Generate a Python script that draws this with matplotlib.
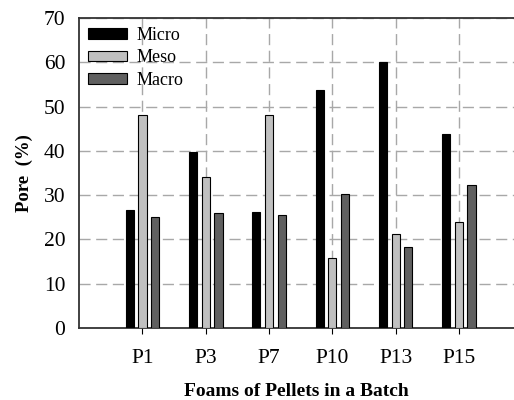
import matplotlib
matplotlib.use("Agg")
import numpy as np
from matplotlib import pyplot as plt

# data
categories = ["P1", "P3", "P7", "P10", "P13", "P15"]
micro = [26.6, 39.7, 26.3, 53.7, 60.1, 43.8]
meso = [48.2, 34.2, 48.1, 15.9, 21.3, 23.9]
macro = [25.0, 25.9, 25.5, 30.3, 18.4, 32.3]

plt.rcParams["font.family"] = ["Liberation Serif", "DejaVu Serif"]

fig = plt.figure(figsize=(5.14, 4.0), dpi=100)
ax = fig.add_axes([0.154, 0.18, 0.846, 0.775])

x = np.arange(1, len(categories) + 1)
w = 0.13
off = 0.2
ax.bar(x - off, micro, w, color="black", edgecolor="black", linewidth=0.8, label="Micro", zorder=3)
ax.bar(x, meso, w, color="#c0c0c0", edgecolor="black", linewidth=0.8, label="Meso", zorder=3)
ax.bar(x + off, macro, w, color="#606060", edgecolor="black", linewidth=0.8, label="Macro", zorder=3)

ax.set_xlim(0, 6.87)
ax.set_ylim(0, 70)
ax.set_xticks(x)
ax.set_xticklabels(categories)
ax.set_yticks(range(0, 71, 10))
ax.tick_params(axis="x", labelsize=15.5, direction="out", length=4, pad=11)
ax.tick_params(axis="y", labelsize=15.5, length=0, pad=10)

ax.grid(True, color="#a8a8a8", linestyle=(0, (8, 4)), linewidth=1.0, zorder=0)
ax.set_axisbelow(True)

for side in ["left", "bottom", "top"]:
    ax.spines[side].set_linewidth(1.3)
    ax.spines[side].set_color("#333333")
ax.spines["right"].set_visible(False)

ax.set_xlabel("Foams of Pellets in a Batch", fontsize=14, fontweight="bold", labelpad=11)
ax.set_ylabel("Pore  (%)", fontsize=13.5, fontweight="bold", labelpad=8)

ax.legend(loc="upper left", frameon=False, fontsize=13, handlelength=2.15, handleheight=0.5,
          labelspacing=0.3, borderaxespad=0.1, handletextpad=0.55)

fig.savefig("out.png", dpi=100)
